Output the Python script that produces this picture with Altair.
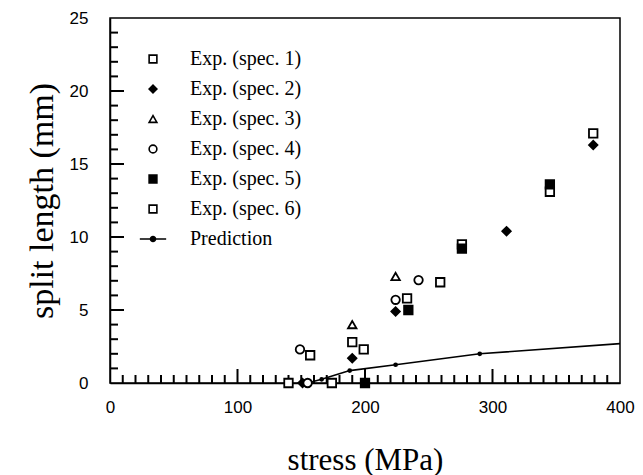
import altair as alt
import pandas as pd

# ---- data ----
series_names = ["Exp. (spec. 1)", "Exp. (spec. 2)", "Exp. (spec. 3)", "Exp. (spec. 4)",
                "Exp. (spec. 5)", "Exp. (spec. 6)", "Prediction"]

spec1_x = [140, 157, 190, 233, 276, 345, 379]
spec1_y = [0.0, 1.9, 2.8, 5.8, 9.5, 13.1, 17.1]

spec2_x = [151, 190, 224, 311, 379]
spec2_y = [0.0, 1.7, 4.9, 10.4, 16.3]

spec3_x = [190, 224]
spec3_y = [4.0, 7.3]

spec4_x = [149, 155, 224, 242]
spec4_y = [2.3, 0.0, 5.7, 7.05]

spec5_x = [200, 234, 276, 345]
spec5_y = [0.0, 5.0, 9.2, 13.6]

spec6_x = [174, 199, 259]
spec6_y = [0.0, 2.3, 6.9]

pred_x = [155, 166, 188, 224, 290, 400]
pred_y = [0.0, 0.25, 0.85, 1.25, 2.0, 2.7]
pred_marker_x = [166, 188, 224, 290]
pred_marker_y = [0.25, 0.85, 1.25, 2.0]

x_labels = [0, 100, 200, 300, 400]
y_labels = [0, 5, 10, 15, 20, 25]
x_minor = [v for v in range(10, 400, 10) if v % 100 != 0]
x_major = [100, 200, 300]
y_minor = [v for v in range(1, 25) if v % 5 != 0]
y_major = [5, 10, 15, 20]

# ---- tables ----
rows = []
for name, xs, ys in [
    (series_names[0], spec1_x, spec1_y),
    (series_names[1], spec2_x, spec2_y),
    (series_names[2], spec3_x, spec3_y),
    (series_names[3], spec4_x, spec4_y),
    (series_names[4], spec5_x, spec5_y),
    (series_names[5], spec6_x, spec6_y),
]:
    for a, b in zip(xs, ys):
        rows.append({"stress": a, "split": b, "series": name})
exp_df = pd.DataFrame(rows)
pred_df = pd.DataFrame({"stress": pred_x, "split": pred_y})
pred_m_df = pd.DataFrame({"stress": pred_marker_x, "split": pred_marker_y})

W, H = 510, 365

pred_symbol = "M-3.4,0L3.4,0M-0.65,0A0.65,0.65,0,1,1,0.65,0A0.65,0.65,0,1,1,-0.65,0Z"
shape_range = ["square", "diamond", "triangle-up", "circle", "square", "square", pred_symbol]
fill_range = ["white", "black", "white", "white", "black", "white", "black"]
stroke_range = ["black"] * 7

x_scale = alt.Scale(domain=[0, 400], nice=False, zero=True)
y_scale = alt.Scale(domain=[0, 25], nice=False)

x_axis = alt.Axis(
    title="stress (MPa)", values=x_labels, ticks=False,
    labelOverlap=False, labelFlush=False,
    labelPadding=16, titlePadding=30,
    titleFontSize=31,
)
y_axis = alt.Axis(
    title="split length (mm)", values=y_labels, ticks=False,
    labelOverlap=False, labelFlush=False,
    labelPadding=22, titlePadding=10,
    titleFontSize=34,
)

legend = alt.Legend(
    orient="none", legendX=33, legendY=31, title=None,
    labelFont="Liberation Serif", labelFontSize=20, labelColor="black",
    symbolSize=60, symbolStrokeWidth=1.6,
    rowPadding=10, labelOffset=27, padding=0, labelLimit=300,
)

X = alt.X("stress:Q", scale=x_scale, axis=x_axis)
Y = alt.Y("split:Q", scale=y_scale, axis=y_axis)

points = alt.Chart(exp_df).mark_point(
    filled=False, size=72, strokeWidth=1.8, opacity=1
).encode(
    x=X, y=Y,
    shape=alt.Shape("series:N", scale=alt.Scale(domain=series_names, range=shape_range), legend=legend),
    fill=alt.Fill("series:N", scale=alt.Scale(domain=series_names, range=fill_range), legend=legend),
    stroke=alt.Stroke("series:N", scale=alt.Scale(domain=series_names, range=stroke_range), legend=legend),
)

pred_line = alt.Chart(pred_df).mark_line(color="black", strokeWidth=1.6).encode(x=X, y=Y)
pred_pts = alt.Chart(pred_m_df).mark_circle(color="black", size=22, opacity=1).encode(x=X, y=Y)

# inward tick marks along the bottom and left edges (positions through the scales)
xt_minor = alt.Chart(pd.DataFrame({"stress": x_minor})).mark_tick(
    color="black", thickness=2, size=8, opacity=1
).encode(x=X, y=alt.value(H - 4))
xt_major = alt.Chart(pd.DataFrame({"stress": x_major})).mark_tick(
    color="black", thickness=2, size=14, opacity=1
).encode(x=X, y=alt.value(H - 7))
yt_minor = alt.Chart(pd.DataFrame({"split": y_minor})).mark_tick(
    color="black", thickness=2, size=8, opacity=1
).encode(y=Y, x=alt.value(4))
yt_major = alt.Chart(pd.DataFrame({"split": y_major})).mark_tick(
    color="black", thickness=2, size=14, opacity=1
).encode(y=Y, x=alt.value(7))

chart = alt.layer(xt_minor, xt_major, yt_minor, yt_major, pred_line, pred_pts, points).properties(
    width=W, height=H,
    autosize=alt.AutoSizeParams(type="none"),
    padding={"left": 102, "top": 10, "right": 15, "bottom": 92},
).configure_view(
    stroke="black", strokeWidth=1.5
).configure_axis(
    grid=False, domainColor="black", domainWidth=1.5,
    labelColor="black", labelFont="Liberation Sans", labelFontSize=17,
    titleColor="black", titleFont="Liberation Serif", titleFontWeight="normal",
)

chart.save("out.html", embed_options={"renderer": "svg", "actions": False})
